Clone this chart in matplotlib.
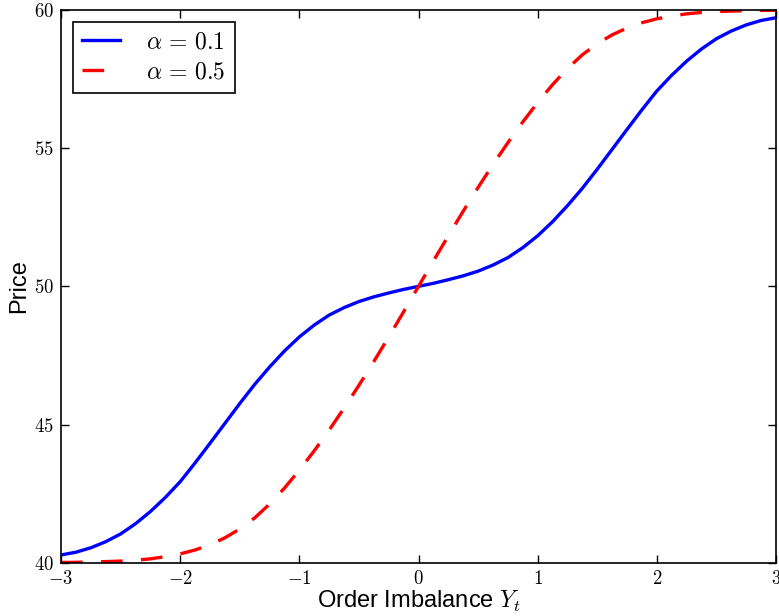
import matplotlib
matplotlib.use("Agg")
import matplotlib.pyplot as plt
from matplotlib.ticker import FuncFormatter, MultipleLocator

# values, every 0.125 along the x axis
order_imbalance = [
    -3.0, -2.875, -2.75, -2.625, -2.5, -2.375, -2.25, -2.125,
    -2.0, -1.875, -1.75, -1.625, -1.5, -1.375, -1.25, -1.125,
    -1.0, -0.875, -0.75, -0.625, -0.5, -0.375, -0.25, -0.125,
    0.0, 0.125, 0.25, 0.375, 0.5, 0.625, 0.75, 0.875,
    1.0, 1.125, 1.25, 1.375, 1.5, 1.625, 1.75, 1.875,
    2.0, 2.125, 2.25, 2.375, 2.5, 2.625, 2.75, 2.875, 3.0,
]
price_alpha_01 = [
    40.28, 40.38, 40.54, 40.76, 41.04, 41.41, 41.85, 42.36,
    42.93, 43.61, 44.32, 45.04, 45.76, 46.45, 47.08, 47.66,
    48.17, 48.60, 48.96, 49.23, 49.45, 49.62, 49.76, 49.89,
    50.00, 50.11, 50.24, 50.38, 50.55, 50.77, 51.04, 51.40,
    51.83, 52.34, 52.92, 53.55, 54.24, 54.96, 55.68, 56.39,
    57.07, 57.64, 58.15, 58.59, 58.96, 59.24, 59.46, 59.62, 59.72,
]
price_alpha_05 = [
    40.01, 40.015, 40.025, 40.04, 40.06, 40.09, 40.14, 40.22,
    40.32, 40.46, 40.65, 40.90, 41.22, 41.62, 42.12, 42.70,
    43.35, 44.05, 44.80, 45.59, 46.42, 47.28, 48.17, 49.08,
    50.00, 50.92, 51.83, 52.72, 53.58, 54.41, 55.20, 55.95,
    56.65, 57.30, 57.88, 58.38, 58.78, 59.10, 59.35, 59.54,
    59.68, 59.78, 59.86, 59.91, 59.94, 59.96, 59.975, 59.985, 59.99,
]
labels = [r"$\alpha\,=\,0.1$", r"$\alpha\,=\,0.5$"]

plt.rcParams["font.family"] = "sans-serif"
plt.rcParams["font.sans-serif"] = ["Liberation Sans", "DejaVu Sans"]
plt.rcParams["mathtext.fontset"] = "cm"

fig = plt.figure(figsize=(7.79, 6.16), dpi=100, facecolor="white")
ax = fig.add_axes([0.0783, 0.0865, 0.9179, 0.8973])

ax.plot(order_imbalance, price_alpha_01, color="blue", lw=2.4, label=labels[0])
ax.plot(order_imbalance, price_alpha_05, color="red", lw=2.4, dashes=(6.5, 5.5),
        dash_capstyle="butt", label=labels[1])

ax.set_xlim(-3, 3)
ax.set_ylim(40, 60)
ax.xaxis.set_major_locator(MultipleLocator(1))
ax.yaxis.set_major_locator(MultipleLocator(5))
fmt = FuncFormatter(lambda v, p: f"${v:g}$")
ax.xaxis.set_major_formatter(fmt)
ax.yaxis.set_major_formatter(fmt)
ax.tick_params(direction="in", length=5.5, width=1, top=True, right=True,
               labelsize=13.5, pad=5, color="black")
for sp in ax.spines.values():
    sp.set_linewidth(1.2)

ax.set_xlabel(r"Order Imbalance $Y_t$", fontsize=17, labelpad=1)
ax.set_ylabel("Price", fontsize=17, labelpad=3)

leg = ax.legend(loc="upper left", fontsize=17, fancybox=False, framealpha=1,
                edgecolor="black", handlelength=1.6, handletextpad=1.1,
                borderpad=0.4, labelspacing=0.35, borderaxespad=0.5)
leg.get_frame().set_linewidth(1.2)

fig.savefig("out.png", dpi=100, facecolor="white")
